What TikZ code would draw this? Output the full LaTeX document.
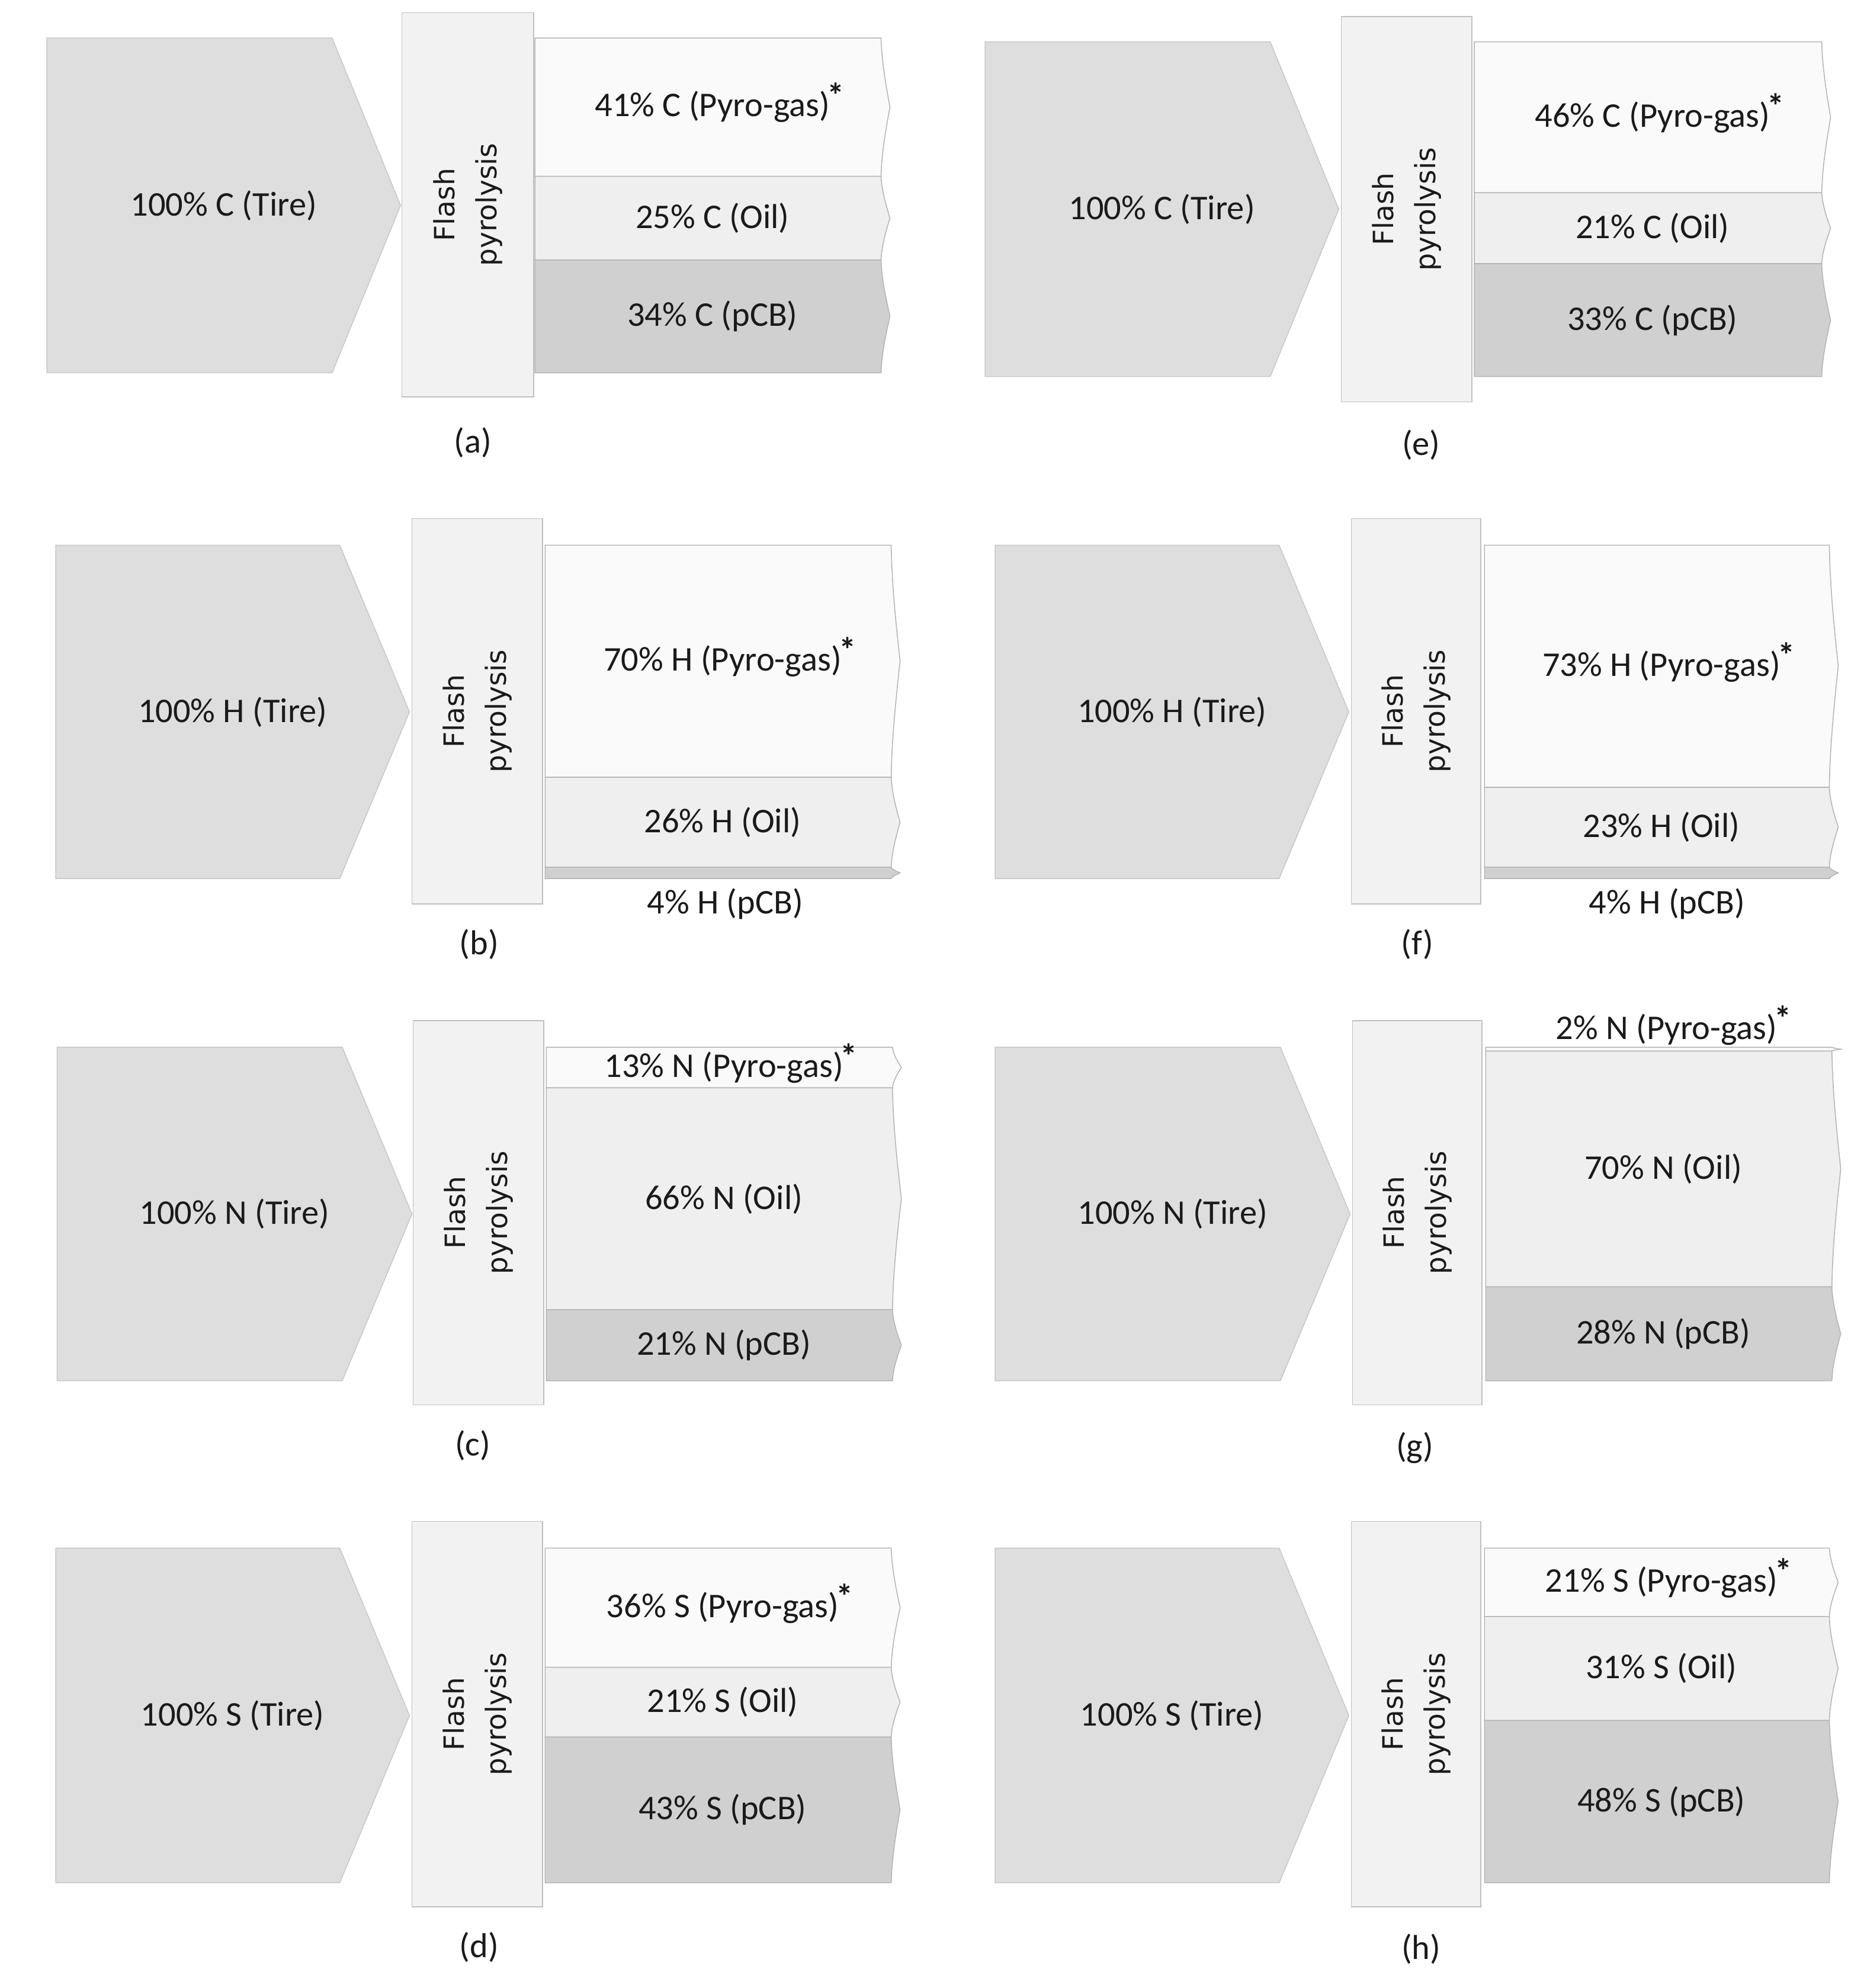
\documentclass[tikz,border=0pt]{standalone}
\usepackage{fontspec}
\setmainfont{Carlito}
\newfontfamily\flashfont{DejaVu Sans}
\definecolor{tirefill}{HTML}{DEDEDE}
\definecolor{tireline}{HTML}{C8C8C8}
\definecolor{flashfill}{HTML}{F2F2F2}
\definecolor{flashline}{HTML}{C0C0C0}
\definecolor{gasfill}{HTML}{FAFAFA}
\definecolor{oilfill}{HTML}{EFEFEF}
\definecolor{cbfill}{HTML}{D0D0D0}
\definecolor{outline}{HTML}{B4B4B4}
\definecolor{txt}{HTML}{1A1A1A}
\tikzset{
 tirebox/.style={fill=tirefill,draw=tireline,line width=0.7pt},
 flashbox/.style={fill=flashfill,draw=flashline,line width=0.7pt},
 gasbox/.style={fill=gasfill,draw=outline,line width=0.7pt},
 oilbox/.style={fill=oilfill,draw=outline,line width=0.7pt},
 cbbox/.style={fill=cbfill,draw=outline,line width=0.7pt},
 lbl/.style={font=\fontsize{27.3}{32}\selectfont,text=txt,inner sep=0pt},
 flashlbl/.style={font=\flashfont\fontsize{22}{33}\selectfont,text=txt,align=center,rotate=90,inner sep=0pt},
}
\newcommand\gasstar{\rlap{\smash{\kern-0.08em\raisebox{0.25em}{\bfseries *}}}}
\newcommand\tireshape[7]{%
 \path[tirebox] (#1,#4) -- (#2,#4) -- (#3,{(#4+#5)/2}) -- (#2,#5) -- (#1,#5) -- cycle;
 \node[lbl] (#6) at ({(#1+#3)/2},{(#4+#5)/2}) {#7};}
\newcommand\flashshape[5]{%
 \path[flashbox] (#1,#2) rectangle (#3,#4);
 \node[flashlbl] (#5) at ({(#1+#3)/2},{(#2+#4)/2}) {Flash\\pyrolysis};}
\newcommand\outshape[5]{%
 \path[#5] (#1,#3) -- (#2,#3)
  .. controls ({#2+0.5},{#3+0.175*(#4-#3)}) and ({#2+4},{#3+0.35*(#4-#3)}) .. ({#2+7},{(#3+#4)/2})
  .. controls ({#2+4},{#4-0.35*(#4-#3)}) and ({#2+0.5},{#4-0.175*(#4-#3)}) .. (#2,#4)
  -- (#1,#4) -- cycle;}
\begin{document}
\begin{tikzpicture}[x=1pt,y=-1pt]
\useasboundingbox (0,0) rectangle (1470.3,1568);
% (a)
\tireshape{37}{262}{316}{30}{294}{a-tire}{100\% C (Tire)}
\flashshape{317}{10}{421}{313}{a-flash}
\outshape{422}{695}{30}{139}{gasbox}
\outshape{422}{695}{139}{205}{oilbox}
\outshape{422}{695}{205}{294}{cbbox}
\node[lbl] (a-gas) at (562,84) {41\% C (Pyro-gas)\gasstar};
\node[lbl] (a-oil) at (562,172) {25\% C (Oil)};
\node[lbl] (a-cb) at (562,249.5) {34\% C (pCB)};
\node[lbl] (a-cap) at (373,349) {(a)};
% (e)
\tireshape{777}{1002}{1056}{33}{297}{e-tire}{100\% C (Tire)}
\flashshape{1058}{13}{1161}{317}{e-flash}
\outshape{1163}{1437}{33}{152}{gasbox}
\outshape{1163}{1437}{152}{208}{oilbox}
\outshape{1163}{1437}{208}{297}{cbbox}
\node[lbl] (e-gas) at (1303.5,92.5) {46\% C (Pyro-gas)\gasstar};
\node[lbl] (e-oil) at (1303.5,180) {21\% C (Oil)};
\node[lbl] (e-cb) at (1303.5,252.5) {33\% C (pCB)};
\node[lbl] (e-cap) at (1121,351) {(e)};
% (b)
\tireshape{44}{268}{323}{430}{693}{b-tire}{100\% H (Tire)}
\flashshape{325}{409}{428}{713}{b-flash}
\outshape{430}{703}{430}{613}{gasbox}
\outshape{430}{703}{613}{684}{oilbox}
\outshape{430}{703}{684}{693}{cbbox}
\node[lbl] (b-gas) at (570,521.5) {70\% H (Pyro-gas)\gasstar};
\node[lbl] (b-oil) at (570,648.5) {26\% H (Oil)};
\node[lbl] (b-cb) at (572,713) {4\% H (pCB)};
\node[lbl] (b-cap) at (378,745) {(b)};
% (f)
\tireshape{785}{1009}{1064}{430}{693}{f-tire}{100\% H (Tire)}
\flashshape{1066}{409}{1168}{713}{f-flash}
\outshape{1171}{1443}{430}{621}{gasbox}
\outshape{1171}{1443}{621}{684}{oilbox}
\outshape{1171}{1443}{684}{693}{cbbox}
\node[lbl] (f-gas) at (1310.5,525.5) {73\% H (Pyro-gas)\gasstar};
\node[lbl] (f-oil) at (1310.5,652.5) {23\% H (Oil)};
\node[lbl] (f-cb) at (1315,713) {4\% H (pCB)};
\node[lbl] (f-cap) at (1118,745) {(f)};
% (c)
\tireshape{45}{270}{325}{826}{1089}{c-tire}{100\% N (Tire)}
\flashshape{326}{805}{429}{1108}{c-flash}
\outshape{431}{704}{826}{858}{gasbox}
\outshape{431}{704}{858}{1033}{oilbox}
\outshape{431}{704}{1033}{1089}{cbbox}
\node[lbl] (c-gas) at (571,842) {13\% N (Pyro-gas)\gasstar};
\node[lbl] (c-oil) at (571,945.5) {66\% N (Oil)};
\node[lbl] (c-cb) at (571,1061) {21\% N (pCB)};
\node[lbl] (c-cap) at (373,1140) {(c)};
% (g)
\tireshape{785}{1010}{1065}{826}{1089}{g-tire}{100\% N (Tire)}
\flashshape{1067}{805}{1169}{1108}{g-flash}
\outshape{1172}{1445}{826}{829}{gasbox}
\outshape{1172}{1445}{829}{1015}{oilbox}
\outshape{1172}{1445}{1015}{1089}{cbbox}
\node[lbl] (g-gas) at (1314.5,812) {2\% N (Pyro-gas)\gasstar};
\node[lbl] (g-oil) at (1312,922) {70\% N (Oil)};
\node[lbl] (g-cb) at (1312,1052) {28\% N (pCB)};
\node[lbl] (g-cap) at (1116,1142) {(g)};
% (d)
\tireshape{44}{268}{323}{1221}{1485}{d-tire}{100\% S (Tire)}
\flashshape{325}{1200}{428}{1504}{d-flash}
\outshape{430}{703}{1221}{1315}{gasbox}
\outshape{430}{703}{1315}{1370}{oilbox}
\outshape{430}{703}{1370}{1485}{cbbox}
\node[lbl] (d-gas) at (570,1268) {36\% S (Pyro-gas)\gasstar};
\node[lbl] (d-oil) at (570,1342.5) {21\% S (Oil)};
\node[lbl] (d-cb) at (570,1427.5) {43\% S (pCB)};
\node[lbl] (d-cap) at (378,1536) {(d)};
% (h)
\tireshape{785}{1009}{1064}{1221}{1485}{h-tire}{100\% S (Tire)}
\flashshape{1066}{1200}{1168}{1504}{h-flash}
\outshape{1171}{1443}{1221}{1275}{gasbox}
\outshape{1171}{1443}{1275}{1357}{oilbox}
\outshape{1171}{1443}{1357}{1485}{cbbox}
\node[lbl] (h-gas) at (1310.5,1248) {21\% S (Pyro-gas)\gasstar};
\node[lbl] (h-oil) at (1310.5,1316) {31\% S (Oil)};
\node[lbl] (h-cb) at (1310.5,1421) {48\% S (pCB)};
\node[lbl] (h-cap) at (1121,1537) {(h)};
\end{tikzpicture}
\end{document}
